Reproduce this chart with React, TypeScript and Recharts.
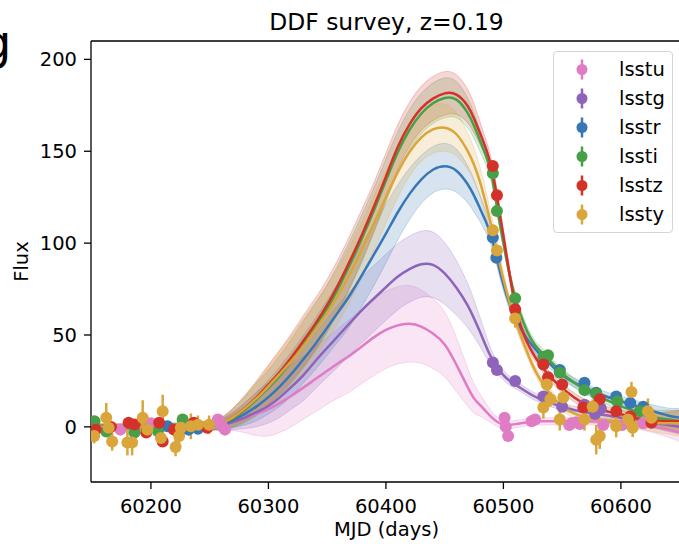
import {
  Area,
  ComposedChart,
  ErrorBar,
  Legend,
  Line,
  ReferenceLine,
  Scatter,
  XAxis,
  YAxis,
} from "recharts";

// model grid (MJD) shared by all GP curves
const mjdGrid = [
  60150, 60200, 60250,
  60260, 60270, 60280, 60290, 60300, 60310, 60320,
  60330, 60340, 60350, 60360, 60370, 60380, 60390,
  60400, 60410, 60420, 60430, 60440, 60450, 60460,
  60470, 60475, 60480, 60485, 60490, 60495, 60500,
  60505, 60510, 60515, 60520, 60525, 60530, 60535,
  60540, 60545, 60550, 60560, 60570, 60580, 60590,
  60600, 60610, 60620, 60630, 60640, 60650,
];

const fluxU = [
  0, 0, 0.5,
  1.5, 3, 5, 7, 9.5, 13, 17,
  21.5, 26, 30.5, 35, 39, 44, 49,
  53, 55.5, 56.5, 55, 51, 46, 34,
  21, 15, 12, 8.5, 5, 2.5, 1,
  1, 1.5, 2, 2.5, 3, 3, 3,
  3, 3, 3, 3, 3, 3, 2.5,
  2.5, 2, 1, 0, -1.5, -3,
];
const sigU = [
  1.5, 1.5, 2,
  3, 5, 8, 12, 15, 16, 17,
  17, 18, 18, 19, 20, 20, 21,
  21, 21, 21, 20, 19, 18, 15,
  10, 8, 6, 4.5, 3, 2.5, 2,
  2, 2, 2, 2, 2, 2, 2,
  2, 2, 2, 2, 2, 2, 2,
  2, 2.5, 3, 3.5, 4, 5,
];

const fluxG = [
  0, 0, 0.5,
  1, 2.5, 5, 8, 11, 16, 22,
  28, 36, 43, 50, 57, 64, 70,
  76, 82, 86, 89, 89, 84, 76,
  66, 59, 52, 44, 37, 32, 28,
  25, 23, 21, 19, 17, 15.5, 14,
  13, 12, 11, 9, 8, 7, 6,
  5, 4, 3, 2, 1, 0,
];
const sigG = [
  1.5, 1.5, 2,
  3, 4, 6, 8, 9, 11, 12,
  14, 15, 16, 17, 17, 18, 18,
  18, 18, 18, 18, 18, 17, 15,
  12, 10, 8, 6, 4, 3, 2.5,
  2.5, 2, 2, 2, 2, 2, 2,
  2, 2, 2, 2, 2, 2, 2,
  2, 2.5, 3, 3, 3.5, 4,
];

const fluxR = [
  0, 0, 0.5,
  1, 3.5, 7, 11, 16, 22, 29,
  37, 45, 54, 63, 72, 83, 94,
  105, 117, 127, 135, 140.5, 142.5, 140.5,
  132, 126, 119, 112, 104, 90, 77,
  67, 59, 53, 48, 44, 40, 37,
  34, 31, 28, 24, 21, 18, 16,
  14, 12, 10, 8, 6, 5,
];
const sigR = [
  1.5, 1.5, 2,
  3, 4, 6, 8, 9, 11, 12,
  13, 14, 15, 16, 17, 17, 17,
  16, 15, 14, 13, 12.5, 12.5, 12,
  10, 9, 7, 6, 5, 4, 3.5,
  3, 3, 2.5, 2.5, 2.5, 2.5, 2.5,
  2.5, 2.5, 2.5, 2.5, 2.5, 2.5, 2.5,
  2.5, 3, 3, 3.5, 4, 5,
];

const fluxI = [
  0, 0, 0.5,
  1.5, 4.5, 9, 15, 21, 28, 36,
  45, 54, 64, 76, 89, 103, 118,
  134, 150, 162, 171, 176.5, 179.5, 179.5,
  171, 164, 156, 148, 139, 117, 100,
  83, 70, 60, 52, 46, 42, 39,
  36, 32, 29, 24, 20, 17, 14,
  11, 9, 7, 5, 4, 3,
];
const sigI = [
  1.5, 1.5, 2,
  3, 5, 7, 9, 10, 11, 12,
  13, 13, 13, 13, 13, 13, 12,
  12, 11, 11, 11, 11, 11, 10,
  8, 7, 6, 5, 4, 3.5, 3,
  3, 3, 3, 2.5, 2.5, 2.5, 2.5,
  2.5, 2.5, 2.5, 2.5, 2.5, 2.5, 2.5,
  2.5, 2.5, 3, 4, 5, 6,
];

const fluxZ = [
  0, 0, 0.5,
  1.5, 5, 10, 16, 23, 30, 38,
  47, 56, 66, 78, 91, 105, 120,
  136, 153, 165, 174, 179, 182, 182,
  175, 168, 160, 152, 142, 124, 104,
  84, 65, 54, 46, 40, 35, 31,
  27, 24, 21, 16, 12, 10, 8,
  7, 5, 4, 3.5, 3, 3,
];
const sigZ = [
  1.5, 1.5, 2,
  3, 5, 7, 9, 11, 12, 13,
  14, 14, 14, 14, 14, 14, 13,
  13, 12, 12, 12, 12, 12, 11,
  9, 8, 6, 5, 4, 3.5, 3,
  3, 3, 3, 2.5, 2.5, 2.5, 2.5,
  2.5, 2.5, 2.5, 2.5, 2.5, 2.5, 2.5,
  2.5, 2.5, 3, 4, 5, 6,
];

const fluxY = [
  0, 0, 0.5,
  1.5, 5, 10, 15.5, 22, 29, 36,
  44, 53, 62, 72, 84, 97, 111,
  125, 139, 150, 158, 162.5, 163.5, 160.5,
  150, 143, 134, 122, 109, 94, 80,
  68, 58, 49, 41, 33, 27, 22,
  18, 14, 11, 7, 5, 4, 3.5,
  3, 3, 2.5, 2, 2, 2,
];
const sigY = [
  1.5, 1.5, 2,
  3, 5, 7, 9, 11, 13, 14,
  15, 15, 15, 15, 15, 15, 15,
  14, 14, 13, 13, 13, 13, 12,
  10, 9, 8, 7, 6, 5, 4,
  3.5, 3, 3, 2.5, 2.5, 2.5, 2.5,
  2.5, 2.5, 2.5, 2.5, 2.5, 2.5, 2.5,
  3, 3, 4, 5, 6, 7,
];

// observations: [mjd, flux, flux error]
const obsU = [
  [60174, -1.5, 2], [60200, 2, 2], [60231, 1, 2], [60257, 4, 2], [60259, 2, 2],
  [60261, 0, 2], [60263, -1.5, 2], [60501, 5, 2], [60502, 0, 2], [60504, -5, 2],
  [60524, 3, 2], [60527, 4, 2], [60556, 1, 2], [60558, 2, 2], [60562, 2.5, 2],
  [60565, 1.5, 2], [60585, 1, 2], [60601, 1, 2], [60606, 2, 2], [60619, 2, 2],
];
const obsG = [
  [60491, 35, 2], [60494.5, 31, 2], [60510, 25, 2], [60534, 16.5, 2], [60550, 11, 2],
  [60569, 12, 2], [60578, 7, 2], [60583, 10, 2],
];
const obsR = [
  [60214, 0.3, 2], [60232, -1.5, 2], [60240, -1, 2], [60491, 103, 2], [60494, 92, 2],
  [60548, 31, 2], [60569, 24, 2], [60579, 18.6, 2], [60596, 16.5, 2], [60608, 13, 2],
  [60619, 11, 2],
];
const obsI = [
  [60152, 3, 2], [60162, -2.5, 2], [60186, -3, 2], [60206, -2.4, 2], [60227, 4, 2],
  [60491, 138, 2], [60494.5, 117.5, 2], [60510, 70, 2], [60534, 38, 2], [60538, 39, 2],
  [60548, 29.5, 2], [60569, 20, 2], [60579, 18, 2], [60597, 14, 2], [60616, 8.5, 2],
  [60622, 8.5, 2],
];
const obsZ = [
  [60153, -1.5, 2], [60166, 0, 2], [60181, 2.3, 2], [60186, 1.3, 2], [60196, -3, 2],
  [60207, 2.3, 2], [60210, -8, 2.5], [60219.5, -1.5, 2], [60236.5, 2.3, 2], [60248, -0.5, 2],
  [60491, 142, 2], [60494.5, 126, 2], [60510, 64, 2], [60534, 34, 2], [60538, 27, 2],
  [60550, 23, 2], [60568, 10.5, 2], [60582, 15, 2], [60596, 8.5, 2], [60608, 5.6, 2],
  [60626, 2.3, 2],
];
const obsY = [
  [60151.7, -5, 4], [60162, 5, 8], [60164, -0.5, 3], [60167, -8, 5], [60180, -8.5, 7],
  [60184, -8.5, 7], [60193, 5, 9.5], [60197, -1.5, 3], [60210, 8.5, 9], [60208.5, -6, 5],
  [60221, -11, 5], [60224, -5, 5], [60225.5, -0.5, 3], [60234, 0.3, 7], [60240, 1.2, 5],
  [60249.5, 1.2, 5], [60491, 107, 3], [60494.5, 96, 3], [60510, 59, 5], [60537, 23, 5],
  [60540, 15, 4], [60534, 10.5, 6], [60551, 16, 5], [60548, 4, 6], [60569, 4, 6],
  [60576, 11, 4], [60579, -7, 8], [60582, -5, 7], [60596, 0.3, 6], [60606, 4, 5],
  [60609, 19, 5.5], [60610, -0.5, 5], [60623, 8.5, 7], [60626, 5, 4],
];

const xTicks = [60200, 60300, 60400, 60500, 60600];
const yTicks = [0, 50, 100, 150, 200];

const FONT = '"DejaVu Sans", sans-serif';

const bands = [
  { key: "u", name: "lsstu", color: "#df7cc4", mean: fluxU, sigma: sigU, obs: obsU },
  { key: "g", name: "lsstg", color: "#8e64ba", mean: fluxG, sigma: sigG, obs: obsG },
  { key: "r", name: "lsstr", color: "#3777b6", mean: fluxR, sigma: sigR, obs: obsR },
  { key: "i", name: "lssti", color: "#47a047", mean: fluxI, sigma: sigI, obs: obsI },
  { key: "z", name: "lsstz", color: "#d3322a", mean: fluxZ, sigma: sigZ, obs: obsZ },
  { key: "y", name: "lssty", color: "#daa53a", mean: fluxY, sigma: sigY, obs: obsY },
];

const modelRows = mjdGrid.map((mjd, i) => {
  const row: any = { mjd };
  bands.forEach((b) => {
    row[b.key] = b.mean[i];
    row[b.key + "Band"] = [b.mean[i] - b.sigma[i], b.mean[i] + b.sigma[i]];
  });
  return row;
});

function LegendBox() {
  return (
    <div
      style={{
        width: 120,
        height: 182,
        boxSizing: "border-box",
        border: "1px solid #d4d4d4",
        borderRadius: 4,
        background: "rgba(255,255,255,0.8)",
        paddingTop: 3,
        fontFamily: FONT,
      }}
    >
      {bands.map((b) => (
        <div key={b.key} style={{ display: "flex", alignItems: "center", height: 29 }}>
          <svg width={60} height={29} style={{ flex: "none" }}>
            <line x1={28} x2={28} y1={4.5} y2={24.5} stroke={b.color} strokeWidth={2.5} />
            <circle cx={28} cy={14.5} r={5.5} fill={b.color} />
          </svg>
          <span style={{ fontSize: 19.5, lineHeight: 1, color: "#000", marginLeft: 5 }}>{b.name}</span>
        </div>
      ))}
    </div>
  );
}

const dot = (color: string) => (p: any) => <circle cx={p.cx} cy={p.cy} r={6} fill={color} />;

export default function App() {
  return (
    <div
      style={{
        position: "absolute",
        left: 0,
        top: 0,
        width: 679,
        height: 544,
        overflow: "hidden",
        background: "#fff",
        fontFamily: FONT,
      }}
    >
      <svg width={679} height={544} style={{ position: "absolute", left: 0, top: 0 }}>
        <text x={386.5} y={30} textAnchor="middle" fontSize={23.4} fill="#000" fontFamily={FONT}>
          DDF survey, z=0.19
        </text>
        <text x={-19} y={59} fontSize={48} fill="#000" fontFamily={FONT}>
          g
        </text>
      </svg>
      <div style={{ position: "absolute", left: 0, top: 0 }}>
        <ComposedChart
          width={700}
          height={544}
          data={modelRows}
          margin={{ top: 41, right: 18, bottom: 0, left: 0 }}
        >
          <XAxis
            dataKey="mjd"
            type="number"
            domain={[60149, 60652]}
            allowDataOverflow
            ticks={xTicks}
            height={62}
            tickSize={7}
            tickMargin={10}
            tick={{ fill: "#000", fontSize: 19.5, fontFamily: FONT }}
            axisLine={{ stroke: "#000", strokeWidth: 1.3 }}
            tickLine={{ stroke: "#000", strokeWidth: 1.3 }}
            label={{ value: "MJD (days)", position: "insideBottom", offset: 8, fill: "#000", fontSize: 19.5 }}
          />
          <YAxis
            type="number"
            domain={[-30, 210]}
            allowDataOverflow
            ticks={yTicks}
            width={91}
            tickSize={7}
            tickMargin={7}
            tick={{ fill: "#000", fontSize: 19.5, fontFamily: FONT }}
            axisLine={{ stroke: "#000", strokeWidth: 1.3 }}
            tickLine={{ stroke: "#000", strokeWidth: 1.3 }}
            label={{
              content: () => (
                <text
                  x={28}
                  y={261.5}
                  transform="rotate(-90 28 261.5)"
                  textAnchor="middle"
                  fontSize={19.5}
                  fill="#000"
                  fontFamily={FONT}
                >
                  Flux
                </text>
              ),
            }}
          />
          <ReferenceLine y={210} stroke="#000" strokeWidth={1.3} />
          {bands.map((b) => (
            <Area
              key={"band-" + b.key}
              dataKey={b.key + "Band"}
              type="basis"
              fill={b.color}
              fillOpacity={0.2}
              stroke={b.color}
              strokeOpacity={0.25}
              strokeWidth={1}
              isAnimationActive={false}
              legendType="none"
            />
          ))}
          {bands.map((b) => (
            <Line
              key={"line-" + b.key}
              dataKey={b.key}
              type="basis"
              stroke={b.color}
              strokeWidth={2.5}
              dot={false}
              activeDot={false}
              isAnimationActive={false}
              legendType="none"
            />
          ))}
          {bands.map((b) => (
            <Scatter
              key={"obs-" + b.key}
              name={b.name}
              data={b.obs.map(([mjd, flux, err]) => ({ mjd, flux, err }))}
              dataKey="flux"
              fill={b.color}
              shape={dot(b.color)}
              isAnimationActive={false}
            >
              <ErrorBar
                dataKey="err"
                direction="y"
                width={0}
                stroke={b.color}
                strokeWidth={2.5}
                isAnimationActive={false}
              />
            </Scatter>
          ))}
          <Legend
            layout="vertical"
            align="center"
            verticalAlign="middle"
            wrapperStyle={{ left: 553, top: 51, width: 120, height: 182 }}
            content={() => <LegendBox />}
          />
        </ComposedChart>
      </div>
    </div>
  );
}
